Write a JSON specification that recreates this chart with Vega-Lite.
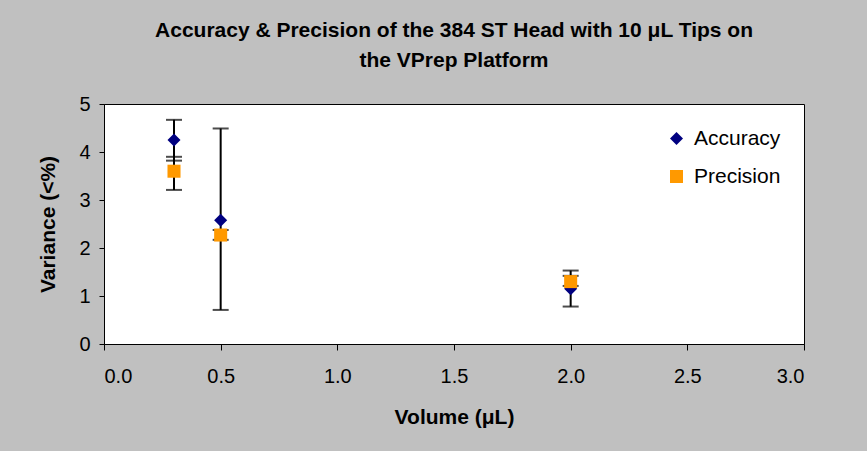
{
  "$schema": "https://vega.github.io/schema/vega-lite/v6.json",
  "width": 700,
  "height": 240,
  "autosize": {"type": "none"},
  "padding": {"left": 104, "top": 104, "right": 63, "bottom": 107},
  "background": "#C0C0C0",
  "title": {
    "text": ["Accuracy & Precision of the 384 ST Head with 10 μL Tips on", "the VPrep Platform"],
    "font": "Liberation Sans",
    "fontSize": 21,
    "fontWeight": "bold",
    "color": "black",
    "lineHeight": 30,
    "offset": 23,
    "anchor": "middle"
  },
  "config": {
    "view": {"stroke": "black", "strokeWidth": 1, "fill": "white"},
    "axis": {
      "domainColor": "black",
      "tickColor": "black",
      "labelColor": "black",
      "titleColor": "black",
      "labelFont": "Liberation Sans",
      "titleFont": "Liberation Sans",
      "labelFontSize": 20,
      "titleFontSize": 21,
      "titleFontWeight": "bold",
      "grid": false
    },
    "legend": {
      "labelFont": "Liberation Sans",
      "labelFontSize": 21,
      "labelColor": "black"
    }
  },
  "data": {
    "values": [
      {"volume": 0.3, "series": "Accuracy", "value": 4.25, "lo": 3.82, "hi": 4.67},
      {"volume": 0.3, "series": "Precision", "value": 3.6, "lo": 3.21, "hi": 3.9},
      {"volume": 0.5, "series": "Accuracy", "value": 2.58, "lo": 0.71, "hi": 4.49},
      {"volume": 0.5, "series": "Precision", "value": 2.27, "lo": 2.17, "hi": 2.375},
      {"volume": 2.0, "series": "Accuracy", "value": 1.15, "lo": 0.78, "hi": 1.53},
      {"volume": 2.0, "series": "Precision", "value": 1.3, "lo": 1.21, "hi": 1.42}
    ]
  },
  "encoding": {
    "x": {
      "field": "volume",
      "type": "quantitative",
      "scale": {"domain": [0, 3], "nice": false},
      "axis": {"values": [0, 0.5, 1, 1.5, 2, 2.5, 3], "format": ".1f", "title": "Volume (μL)", "tickSize": 6, "labelPadding": 16, "titlePadding": 20}
    }
  },
  "layer": [
    {
      "mark": {"type": "rule", "color": "black", "strokeWidth": 2},
      "encoding": {
        "y": {"field": "lo", "type": "quantitative"},
        "y2": {"field": "hi"}
      }
    },
    {
      "mark": {"type": "tick", "color": "black", "orient": "horizontal", "size": 16, "thickness": 2},
      "encoding": {
        "y": {"field": "lo", "type": "quantitative"}
      }
    },
    {
      "mark": {"type": "tick", "color": "black", "orient": "horizontal", "size": 16, "thickness": 2},
      "encoding": {
        "y": {"field": "hi", "type": "quantitative"}
      }
    },
    {
      "mark": {"type": "point", "filled": true, "opacity": 1, "size": 170},
      "encoding": {
        "y": {
          "field": "value",
          "type": "quantitative",
          "scale": {"domain": [0, 5], "nice": false},
          "axis": {"values": [0, 1, 2, 3, 4, 5], "title": "Variance (<%)", "tickSize": 5, "labelPadding": 9, "titlePadding": 20}
        },
        "color": {
          "field": "series",
          "type": "nominal",
          "scale": {"domain": ["Accuracy", "Precision"], "range": ["#000080", "#FF9900"]},
          "legend": {"title": null, "orient": "none", "legendX": 562, "legendY": 24, "padding": 0, "labelOffset": 7, "rowPadding": 16, "symbolSize": 170}
        },
        "shape": {
          "field": "series",
          "type": "nominal",
          "scale": {"domain": ["Accuracy", "Precision"], "range": ["diamond", "square"]}
        },
        "order": {"field": "series", "type": "nominal"}
      }
    }
  ]
}
